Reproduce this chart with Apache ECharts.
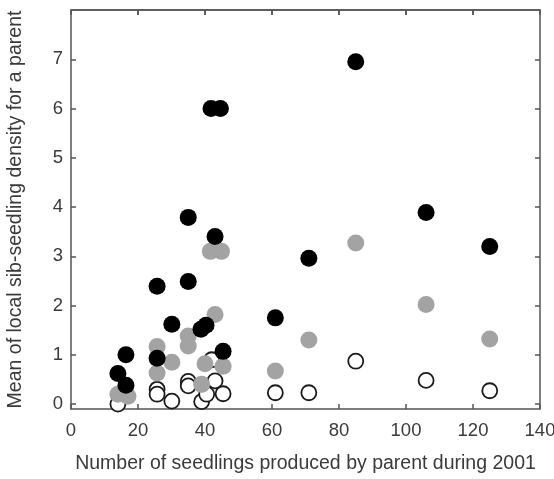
<!DOCTYPE html>
<html>
<head>
<meta charset="utf-8">
<script src="https://cdn.jsdelivr.net/npm/echarts@6/dist/echarts.min.js"></script>
<style>
  html, body { margin: 0; padding: 0; background: #fff; }
  #chart { width: 554px; height: 479px; }
</style>
</head>
<body>
<div id="chart"></div>
<script>
// seedlings per parent (x) and mean local sib-seedling density (y)
const blackX = [85, 106, 125, 71, 61, 41.8, 44.6, 35, 43, 35, 25.7, 30.1, 38.8, 40.3, 45.4, 16.4, 25.7, 14, 16.4]
const blackY = [6.95, 3.89, 3.2, 2.96, 1.75, 6.0, 6.0, 3.79, 3.4, 2.49, 2.39, 1.62, 1.52, 1.6, 1.07, 1.0, 0.93, 0.62, 0.38]

const grayX = [85, 106, 125, 71, 61, 41.6, 44.9, 43, 35, 35, 25.7, 30.1, 40, 45.4, 25.7, 39, 14, 17]
const grayY = [3.27, 2.02, 1.32, 1.3, 0.67, 3.1, 3.1, 1.82, 1.38, 1.18, 1.17, 0.85, 0.82, 0.77, 0.63, 0.4, 0.2, 0.16]

const openX = [85, 106, 125, 71, 61, 14, 25.7, 25.7, 30.1, 35, 35, 39, 40.5, 43, 42, 45.4]
const openY = [0.87, 0.48, 0.27, 0.23, 0.23, 0.0, 0.3, 0.2, 0.06, 0.46, 0.37, 0.05, 0.2, 0.47, 0.9, 0.21]

const xTicks = [0, 20, 40, 60, 80, 100, 120, 140]
const yTicks = [0, 1, 2, 3, 4, 5, 6, 7]
const yMin = -0.1
const yMax = 8

const pairs = (xs, ys) => xs.map((x, i) => [x, ys[i]])

const axisColor = '#555'
const textColor = '#3a3a3a'
const font = 'Liberation Sans, Arial, sans-serif'

const chart = echarts.init(document.getElementById('chart'))

const lineStyle = { color: axisColor, width: 1.5 }

const xBase = {
  type: 'value',
  min: xTicks[0],
  max: xTicks[xTicks.length - 1],
  interval: 20,
  splitLine: { show: false },
  axisLine: { show: true, onZero: false, lineStyle: lineStyle },
  axisTick: { show: true, inside: true, length: 5, lineStyle: lineStyle }
}

const yBase = {
  type: 'value',
  min: yMin,
  max: yMax,
  splitLine: { show: false },
  axisLine: { show: true, onZero: false, lineStyle: lineStyle },
  axisTick: { show: true, inside: true, length: 5, customValues: yTicks, lineStyle: lineStyle }
}

chart.setOption({
  animation: false,
  backgroundColor: '#fff',
  grid: { left: 71, right: 14, top: 10, bottom: 70, outerBoundsMode: 'none' },
  xAxis: [
    Object.assign({}, xBase, {
      position: 'bottom',
      axisLabel: { color: textColor, fontSize: 18.5, fontFamily: font, margin: 12 },
      name: 'Number of seedlings produced by parent during 2001',
      nameLocation: 'middle',
      nameGap: 45,
      nameTextStyle: { color: textColor, fontSize: 19.5, fontFamily: font }
    }),
    Object.assign({}, xBase, {
      position: 'top',
      axisLabel: { show: false }
    })
  ],
  yAxis: [
    Object.assign({}, yBase, {
      position: 'left',
      axisLabel: { color: textColor, fontSize: 18.5, fontFamily: font, margin: 8, customValues: yTicks },
      name: 'Mean of local sib-seedling density for a parent',
      nameLocation: 'middle',
      nameGap: 45,
      nameTextStyle: { color: textColor, fontSize: 19.5, fontFamily: font }
    }),
    Object.assign({}, yBase, {
      position: 'right',
      axisLabel: { show: false }
    })
  ],
  series: [
    {
      type: 'scatter',
      data: pairs(openX, openY),
      symbolSize: 15,
      itemStyle: { color: '#fff', borderColor: '#1a1a1a', borderWidth: 1.8, opacity: 1 },
      z: 2
    },
    {
      type: 'scatter',
      data: pairs(grayX, grayY),
      symbolSize: 17,
      itemStyle: { color: '#a3a3a3', opacity: 1 },
      z: 3
    },
    {
      type: 'scatter',
      data: pairs(blackX, blackY),
      symbolSize: 17,
      itemStyle: { color: '#000', opacity: 1 },
      z: 4
    }
  ]
})

// top edge of the frame plus its inward ticks, positioned through the chart's own scales
const topLeft = chart.convertToPixel({ xAxisIndex: 0, yAxisIndex: 0 }, [xTicks[0], yMax])
const topRight = chart.convertToPixel({ xAxisIndex: 0, yAxisIndex: 0 }, [xTicks[xTicks.length - 1], yMax])
const frame = [{
  type: 'line',
  z: 100,
  shape: { x1: topLeft[0], y1: topLeft[1], x2: topRight[0], y2: topRight[1] },
  style: { stroke: axisColor, lineWidth: 1.5 }
}]
xTicks.slice(1, -1).forEach(v => {
  const p = chart.convertToPixel({ xAxisIndex: 0, yAxisIndex: 0 }, [v, yMax])
  frame.push({
    type: 'line',
    z: 100,
    shape: { x1: p[0], y1: p[1], x2: p[0], y2: p[1] + 5 },
    style: { stroke: axisColor, lineWidth: 1.5 }
  })
})
chart.setOption({ graphic: frame })
</script>
</body>
</html>
